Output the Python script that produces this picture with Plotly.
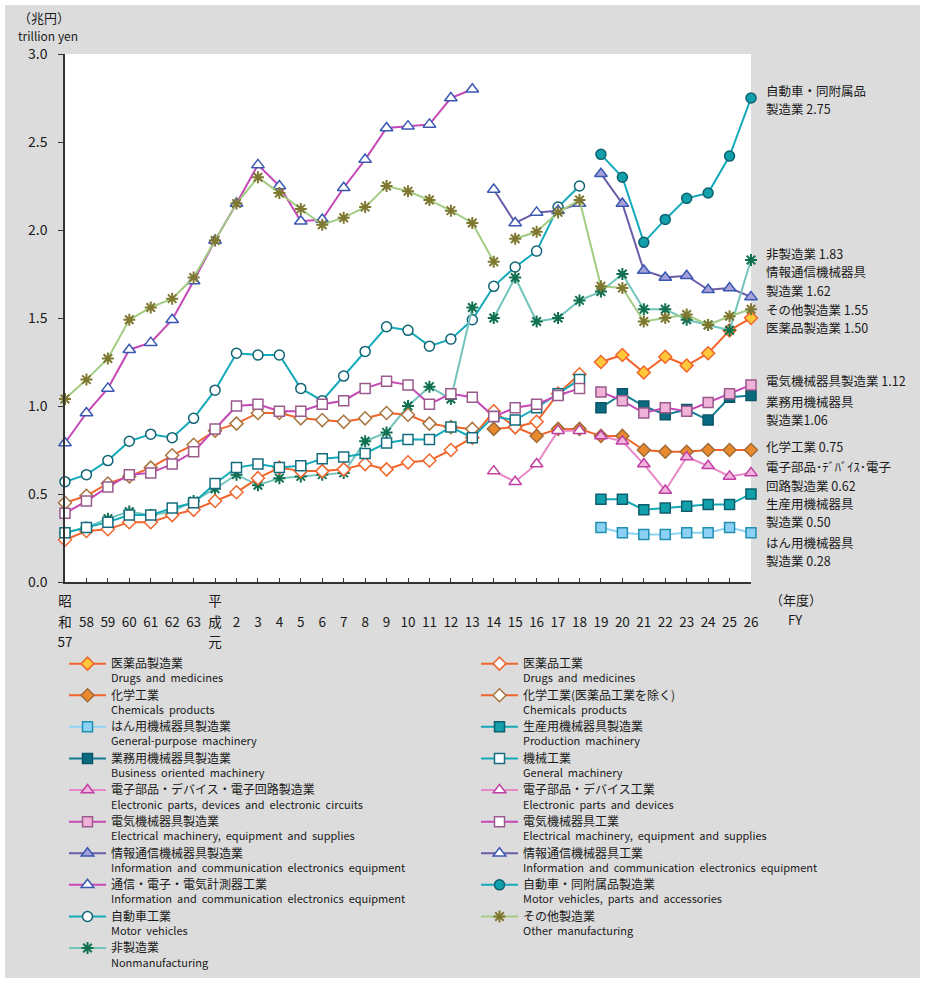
import plotly.graph_objects as go

# ---------------- data ----------------
FY = ["S57", "S58", "S59", "S60", "S61", "S62", "S63",
      "H1", "H2", "H3", "H4", "H5", "H6", "H7", "H8", "H9", "H10",
      "H11", "H12", "H13", "H14", "H15", "H16", "H17", "H18",
      "H19", "H20", "H21", "H22", "H23", "H24", "H25", "H26"]
TICK_LINES = [("昭", "和", "57"), ("", "58", ""), ("", "59", ""), ("", "60", ""), ("", "61", ""),
              ("", "62", ""), ("", "63", ""), ("平", "成", "元"), ("", "2", ""), ("", "3", ""),
              ("", "4", ""), ("", "5", ""), ("", "6", ""), ("", "7", ""), ("", "8", ""),
              ("", "9", ""), ("", "10", ""), ("", "11", ""), ("", "12", ""), ("", "13", ""),
              ("", "14", ""), ("", "15", ""), ("", "16", ""), ("", "17", ""), ("", "18", ""),
              ("", "19", ""), ("", "20", ""), ("", "21", ""), ("", "22", ""), ("", "23", ""),
              ("", "24", ""), ("", "25", ""), ("", "26", "")]

FY_OLD = FY[0:20]     # S57–H13
FY_OLD2 = FY[0:25]    # S57–H18
FY_MID = FY[20:25]    # H14–H18
FY_MID2 = FY[20:33]   # H14–H26
FY_NEW = FY[25:33]    # H19–H26

drugs_ind = [0.24, 0.29, 0.30, 0.34, 0.34, 0.38, 0.41, 0.46, 0.51, 0.59, 0.65, 0.63, 0.63,
             0.64, 0.67, 0.64, 0.68, 0.69, 0.75, 0.82, 0.97, 0.88, 0.91, 1.07, 1.18]
chem_excl = [0.45, 0.49, 0.56, 0.60, 0.65, 0.72, 0.78, 0.86, 0.90, 0.96, 0.96, 0.93, 0.92,
             0.91, 0.93, 0.96, 0.95, 0.90, 0.88, 0.87]
chem = [0.87, 0.88, 0.83, 0.87, 0.87, 0.83, 0.83, 0.75, 0.74, 0.74, 0.75, 0.75, 0.75]
drugs_mfg = [1.25, 1.29, 1.19, 1.28, 1.23, 1.30, 1.43, 1.50]

machinery_ind = [0.28, 0.31, 0.34, 0.38, 0.38, 0.42, 0.45, 0.56, 0.65, 0.67, 0.65, 0.66, 0.70,
                 0.71, 0.73, 0.79, 0.81, 0.81, 0.88, 0.82, 0.94, 0.92, 0.99, 1.07, 1.15]
general_purpose = [0.31, 0.28, 0.27, 0.27, 0.28, 0.28, 0.31, 0.28]
production = [0.47, 0.47, 0.41, 0.42, 0.43, 0.44, 0.44, 0.50]
business = [0.99, 1.07, 1.00, 0.95, 0.98, 0.92, 1.05, 1.06]

elec_ind = [0.39, 0.46, 0.54, 0.61, 0.62, 0.67, 0.74, 0.87, 1.00, 1.01, 0.97, 0.97, 1.01,
            1.03, 1.10, 1.14, 1.12, 1.01, 1.07, 1.05, 0.94, 0.99, 1.01, 1.06, 1.10]
elec_mfg = [1.08, 1.03, 0.96, 0.99, 0.97, 1.02, 1.07, 1.12]
parts_ind = [0.63, 0.57, 0.67, 0.86, 0.86]
parts_mfg = [0.83, 0.80, 0.67, 0.52, 0.71, 0.66, 0.60, 0.62]

comm_ind = [0.79, 0.96, 1.10, 1.32, 1.36, 1.49, 1.71, 1.94, 2.15, 2.37, 2.25, 2.05, 2.06,
            2.24, 2.40, 2.58, 2.59, 2.60, 2.75, 2.80]
ict_ind = [2.23, 2.04, 2.10, 2.11, 2.15]
ict_mfg = [2.32, 2.15, 1.77, 1.73, 1.74, 1.66, 1.67, 1.62]

auto_ind = [0.57, 0.61, 0.69, 0.80, 0.84, 0.82, 0.93, 1.09, 1.30, 1.29, 1.29, 1.10, 1.03,
            1.17, 1.31, 1.45, 1.43, 1.34, 1.38, 1.49, 1.68, 1.79, 1.88, 2.13, 2.25]
auto_mfg = [2.43, 2.30, 1.93, 2.06, 2.18, 2.21, 2.42, 2.75]

other_mfg_a = [1.04, 1.15, 1.27, 1.49, 1.56, 1.61, 1.73, 1.94, 2.15, 2.30, 2.21, 2.12, 2.03,
               2.07, 2.13, 2.25, 2.22, 2.17, 2.11, 2.04, 1.82]
other_mfg_b = [1.95, 1.99, 2.10, 2.17, 1.68, 1.67, 1.48, 1.50, 1.52, 1.46, 1.51, 1.55]
nonmfg_a = [0.28, 0.31, 0.36, 0.40, 0.38, 0.40, 0.46, 0.53, 0.61, 0.55, 0.59, 0.60, 0.61,
            0.62, 0.80, 0.85, 1.00, 1.11, 1.04, 1.56]
nonmfg_b = [1.50, 1.73, 1.48, 1.50, 1.60, 1.65, 1.75, 1.55, 1.55, 1.49, 1.46, 1.43, 1.83]

# ---------------- layout helpers ----------------
W, H = 925, 982
L, R, T, B = 65, 751, 54, 582
JP = "Noto Sans CJK JP"


def px_x(p):
    return (p - L) / (R - L)


def px_y(p):
    return (B - p) / (B - T)


def name(ja, en):
    en = en.replace(" ", "\u00a0\u00a0")
    return f"<span style='font-size:12px'>{ja}</span><br>{en}"


def tick(lines):
    return "<br>".join(f"<span style='font-size:13.5px'>{s if s else ' '}</span>" for s in lines)


TICK_TEXT = [tick(t) for t in TICK_LINES]

fig = go.Figure()


def add(x, y, ja, en, line, symbol, fill, border, size=9, legend="legend", rank=1,
        show=True, group=None, lw=1.5):
    fig.add_trace(go.Scatter(
        x=x, y=y, mode="lines+markers", name=name(ja, en),
        legend=legend, legendrank=rank, showlegend=show,
        legendgroup=group or ja,
        line=dict(color=line, width=2),
        marker=dict(symbol=symbol, size=size, color=fill,
                    line=dict(color=border, width=lw)),
        cliponaxis=False,
    ))


ORANGE = "#F0652C"
# left column legend
add(FY_NEW, drugs_mfg, "医薬品製造業", "Drugs and medicines", ORANGE, "diamond", "#FFC83A", "#F0652C",
    size=10, legend="legend", rank=1)
add(FY_MID2, chem, "化学工業", "Chemicals products", ORANGE, "diamond", "#E98A2C", "#A06A38",
    size=10, legend="legend", rank=2)
add(FY_NEW, general_purpose, "はん用機械器具製造業", "General-purpose machinery", "#8ED3F5", "square",
    "#8CD0F6", "#1F90B0", size=10, legend="legend", rank=3)
add(FY_NEW, business, "業務用機械器具製造業", "Business oriented machinery", "#137D92", "square",
    "#0B6A80", "#0A5567", size=10, legend="legend", rank=4)
add(FY_NEW, parts_mfg, "電子部品・デバイス・電子回路製造業", "Electronic parts, devices and electronic circuits",
    "#E888C8", "triangle-up", "#F2B3DC", "#C040A2", size=11, legend="legend", rank=5)
add(FY_NEW, elec_mfg, "電気機械器具製造業", "Electrical machinery, equipment and supplies",
    "#C548B6", "square", "#F0B2D8", "#9A5A8C", size=10, legend="legend", rank=6)
add(FY_NEW, ict_mfg, "情報通信機械器具製造業", "Information and communication electronics equipment",
    "#6B5CA8", "triangle-up", "#A8A2DA", "#3A58B2", size=11, legend="legend", rank=7)
add(FY_OLD, comm_ind, "通信・電子・電気計測器工業", "Information and communication electronics equipment",
    "#C548B6", "triangle-up", "white", "#3A58B2", size=11, legend="legend", rank=8)
add(FY_OLD2, auto_ind, "自動車工業", "Motor vehicles", "#14AABA", "circle", "white", "#0E6474",
    size=10, legend="legend", rank=9)
add(FY_OLD, nonmfg_a, "非製造業", "Nonmanufacturing", "#72C4BC", "asterisk", "#107050", "#107050",
    size=10, legend="legend", rank=10, group="nonmfg", lw=2)
add(FY_MID2, nonmfg_b, "非製造業", "Nonmanufacturing", "#72C4BC", "asterisk", "#107050", "#107050",
    size=10, legend="legend", rank=11, show=False, group="nonmfg", lw=2)

# right column legend
add(FY_OLD2, drugs_ind, "医薬品工業", "Drugs and medicines", ORANGE, "diamond", "white", "#F0652C",
    size=10, legend="legend2", rank=1)
add(FY_OLD, chem_excl, "化学工業(医薬品工業を除く)", "Chemicals products", ORANGE, "diamond", "white",
    "#A8743E", size=10, legend="legend2", rank=2)
add(FY_NEW, production, "生産用機械器具製造業", "Production machinery", "#14A8B6", "square", "#12A0AA",
    "#0D5E6E", size=10, legend="legend2", rank=3)
add(FY_OLD2, machinery_ind, "機械工業", "General machinery", "#14AABA", "square", "white", "#156C7E",
    size=10, legend="legend2", rank=4)
add(FY_MID, parts_ind, "電子部品・デバイス工業", "Electronic parts and devices", "#E888C8",
    "triangle-up", "white", "#C040A2", size=11, legend="legend2", rank=5)
add(FY_OLD2, elec_ind, "電気機械器具工業", "Electrical machinery, equipment and supplies", "#C548B6",
    "square", "white", "#9A5A8C", size=10, legend="legend2", rank=6)
add(FY_MID, ict_ind, "情報通信機械器具工業", "Information and communication electronics equipment",
    "#6B5CA8", "triangle-up", "white", "#3A58B2", size=11, legend="legend2", rank=7)
add(FY_NEW, auto_mfg, "自動車・同附属品製造業", "Motor vehicles, parts and accessories", "#14AABA",
    "circle", "#12A0AA", "#0D6070", size=10, legend="legend2", rank=8)
add(FY[0:21], other_mfg_a, "その他製造業", "Other manufacturing", "#A2CC84", "asterisk", "#7E7830",
    "#7E7830", size=10, legend="legend2", rank=9, group="other", lw=2)
add(FY[21:33], other_mfg_b, "その他製造業", "Other manufacturing", "#A2CC84", "asterisk", "#7E7830",
    "#7E7830", size=10, legend="legend2", rank=10, show=False, group="other", lw=2)

# ---------------- annotations ----------------
right_labels = [
    ("自動車・同附属品", 90), ("製造業 2.75", 109),
    ("非製造業 1.83", 253),
    ("情報通信機械器具", 271), ("製造業 1.62", 290),
    ("その他製造業 1.55", 309),
    ("医薬品製造業 1.50", 327),
    ("電気機械器具製造業 1.12", 380),
    ("業務用機械器具", 401), ("製造業1.06", 419),
    ("化学工業 0.75", 446),
    ("電子部品･ﾃﾞﾊﾞｲｽ･電子", 466), ("回路製造業 0.62", 485),
    ("生産用機械器具", 503), ("製造業 0.50", 521),
    ("はん用機械器具", 542), ("製造業 0.28", 560),
]
annotations = []
for txt, ypx in right_labels:
    annotations.append(dict(x=px_x(764), y=px_y(ypx), xref="paper", yref="paper", text=txt,
                            showarrow=False, xanchor="left", yanchor="middle",
                            font=dict(family=JP, size=12.5, color="#1a1a1a")))
annotations += [
    dict(x=px_x(16), y=px_y(17), xref="paper", yref="paper", text="（兆円）", showarrow=False,
         xanchor="left", yanchor="middle", font=dict(family=JP, size=13, color="#1a1a1a")),
    dict(x=px_x(16), y=px_y(36), xref="paper", yref="paper", text="trillion yen", showarrow=False,
         xanchor="left", yanchor="middle", font=dict(family=JP, size=12, color="#1a1a1a")),
    dict(x=px_x(768), y=px_y(599), xref="paper", yref="paper", text="（年度）", showarrow=False,
         xanchor="left", yanchor="middle", font=dict(family=JP, size=13, color="#1a1a1a")),
    dict(x=px_x(786), y=px_y(619), xref="paper", yref="paper", text="FY", showarrow=False,
         xanchor="left", yanchor="middle", font=dict(family=JP, size=13, color="#1a1a1a")),
]

shapes = [
    dict(type="rect", xref="paper", yref="paper", x0=px_x(5), x1=px_x(920), y0=px_y(978),
         y1=px_y(5), fillcolor="#DCDCDC", line=dict(width=0), layer="below"),
    dict(type="rect", xref="paper", yref="paper", x0=0, x1=1, y0=0, y1=1,
         fillcolor="white", line=dict(width=0), layer="below"),
]

legend_common = dict(bgcolor="rgba(0,0,0,0)", valign="top", itemwidth=37,
                     font=dict(family=JP, size=11, color="#1a1a1a"),
                     xanchor="left", yanchor="top", tracegroupgap=0,
                     itemclick=False, itemdoubleclick=False)

fig.update_layout(
    width=W, height=H,
    margin=dict(l=L, r=W - R, t=T, b=H - B, autoexpand=False),
    paper_bgcolor="white", plot_bgcolor="white",
    font=dict(family=JP, color="#1a1a1a"),
    xaxis=dict(type="category", categoryorder="array", categoryarray=FY,
               tickvals=FY, ticktext=TICK_TEXT, range=[0, len(FY) - 1],
               showgrid=False, showline=True, linecolor="#333333", linewidth=1.5,
               ticks="inside", ticklen=4, tickcolor="#333333", ticklabelstandoff=4,
               tickfont=dict(family=JP, size=15.5, color="#1a1a1a"), zeroline=False),
    yaxis=dict(range=[0, 3], dtick=0.5, tickformat=".1f", showgrid=False, showline=True,
               linecolor="#333333", linewidth=1.5, ticks="outside", ticklen=5,
               tickcolor="#333333", zeroline=False, ticklabelstandoff=8,
               tickfont=dict(family=JP, size=14, color="#1a1a1a")),
    legend=dict(x=px_x(64), y=px_y(650), **legend_common),
    legend2=dict(x=px_x(476), y=px_y(650), **legend_common),
    annotations=annotations,
    shapes=shapes,
)

fig.write_html("out.html", config={"displayModeBar": False},
               post_script="document.body.style.margin='0';document.body.style.overflow='hidden';")
